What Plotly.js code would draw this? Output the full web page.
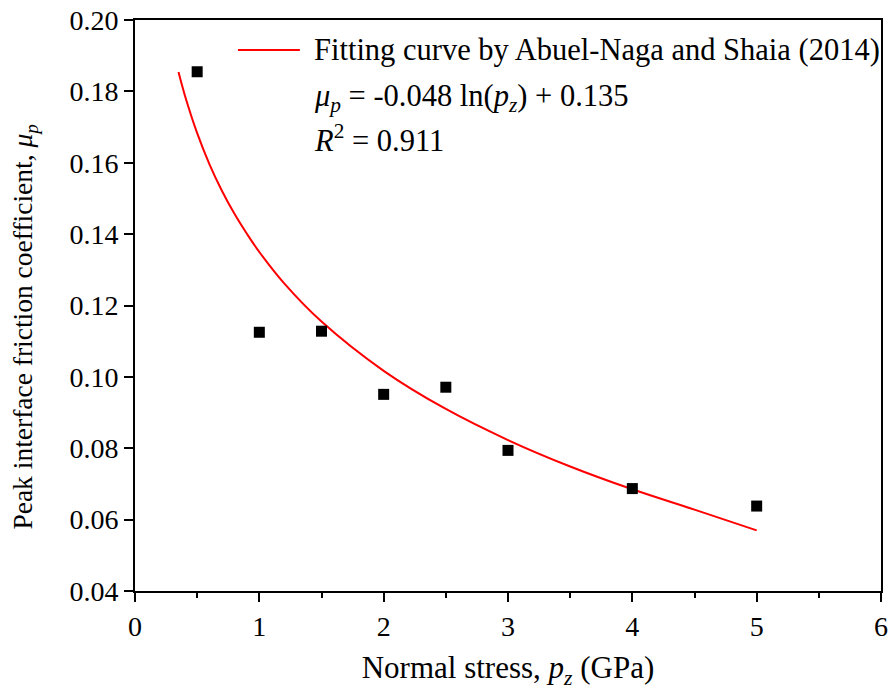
<!DOCTYPE html>
<html>
<head>
<meta charset="utf-8">
<script src="https://cdn.plot.ly/plotly-3.0.1.min.js"></script>
<style>html,body{margin:0;padding:0;background:#fff;}#chart{width:888px;height:693px;}</style>
</head>
<body>
<div id="chart"></div>
<script>
// Measured data
var stressX = [0.5, 1.0, 1.5, 2.0, 2.5, 3.0, 4.0, 5.0];
var frictionY = [0.1855, 0.1125, 0.1128, 0.0951, 0.0971, 0.0794, 0.0687, 0.0638];

// Fitting curve samples
var curveX = [0.35, 0.4, 0.5, 0.6, 0.7, 0.8, 0.9, 1.0, 1.2, 1.5, 2.0, 2.5, 3.0, 3.5, 4.0, 4.5, 5.0];
var curveY = [0.1854, 0.1790, 0.1683, 0.1595, 0.1521, 0.1457, 0.1401, 0.1350, 0.1262, 0.1155, 0.1017, 0.0910, 0.0823, 0.0749, 0.0685, 0.0628, 0.0570];

var xTicks = [0, 1, 2, 3, 4, 5, 6];
var yTicks = [0.04, 0.06, 0.08, 0.10, 0.12, 0.14, 0.16, 0.18, 0.20];
var yTickText = ['0.04', '0.06', '0.08', '0.10', '0.12', '0.14', '0.16', '0.18', '0.20'];

var legendLabel = 'Fitting curve by Abuel-Naga and Shaia (2014)';
var equationLabel = '<i>μ<sub>p</sub></i> = -0.048 ln(<i>p<sub>z</sub></i>) + 0.135';
var r2Label = '<i>R</i><sup>2</sup> = 0.911';
var xTitle = 'Normal stress, <i>p<sub>z</sub></i> (GPa)';
var yTitle = 'Peak interface friction coefficient, <i>μ<sub>p</sub></i>';

var FONT = 'Liberation Serif';

var traces = [
  {
    x: curveX, y: curveY, type: 'scatter', mode: 'lines',
    line: {color: '#ff0000', width: 2, shape: 'spline'},
    name: legendLabel, showlegend: false
  },
  {
    x: stressX, y: frictionY, type: 'scatter', mode: 'markers',
    marker: {symbol: 'square', size: 11, color: '#000000'},
    showlegend: false
  }
];

var layout = {
  width: 888, height: 693,
  margin: {l: 135, r: 7, t: 20, b: 102},
  paper_bgcolor: '#ffffff', plot_bgcolor: '#ffffff',
  font: {family: FONT, size: 28, color: '#000'},
  showlegend: false,
  xaxis: {
    range: [0, 6], tickvals: xTicks, ticktext: xTicks.map(String),
    ticks: 'outside', ticklen: 9, tickwidth: 2, tickcolor: '#000',
    minor: {dtick: 0.5, ticks: 'outside', ticklen: 5, tickwidth: 2, tickcolor: '#000', showgrid: false},
    showline: true, linecolor: '#000', linewidth: 2, mirror: true,
    showgrid: false, zeroline: false,
    tickfont: {family: FONT, size: 28, color: '#000'},
    title: {text: xTitle, font: {family: FONT, size: 31, color: '#000'}, standoff: 16}
  },
  yaxis: {
    range: [0.04, 0.20], tickvals: yTicks, ticktext: yTickText,
    ticks: 'outside', ticklen: 9, tickwidth: 2, tickcolor: '#000',
    showline: true, linecolor: '#000', linewidth: 2, mirror: true,
    showgrid: false, zeroline: false,
    tickfont: {family: FONT, size: 28, color: '#000'}
  },
  shapes: [
    {type: 'line', xref: 'paper', yref: 'paper', x0: 0.138, x1: 0.221, y0: 0.9475, y1: 0.9475,
     line: {color: '#ff0000', width: 2}}
  ],
  annotations: [
    {xref: 'paper', yref: 'paper', x: -0.1475, y: 0.463, xanchor: 'center', yanchor: 'middle', showarrow: false,
     textangle: -90, text: yTitle, font: {family: FONT, size: 27.5, color: '#000'}},
    {xref: 'paper', yref: 'paper', x: 0.237, y: 0.9475, xanchor: 'left', yanchor: 'middle', showarrow: false,
     text: legendLabel, font: {family: FONT, size: 30.5, color: '#000'}},
    {xref: 'paper', yref: 'paper', x: 0.237, y: 0.864, xanchor: 'left', yanchor: 'middle', showarrow: false,
     text: equationLabel, font: {family: FONT, size: 30.5, color: '#000'}},
    {xref: 'paper', yref: 'paper', x: 0.237, y: 0.792, xanchor: 'left', yanchor: 'middle', showarrow: false,
     text: r2Label, font: {family: FONT, size: 30.5, color: '#000'}}
  ]
};

Plotly.newPlot('chart', traces, layout, {displayModeBar: false, staticPlot: true});
</script>
</body>
</html>
